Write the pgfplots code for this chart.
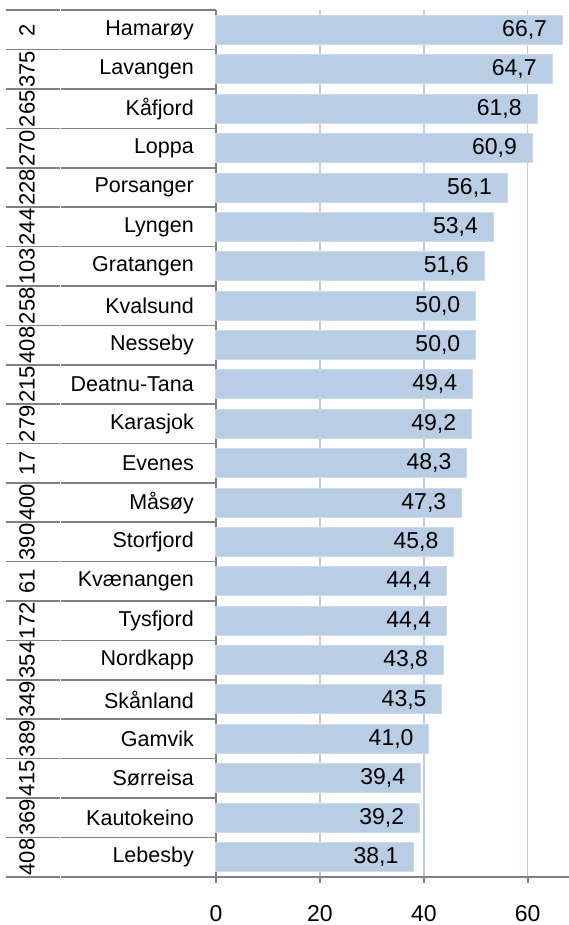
\documentclass[border=0pt]{standalone}
\usepackage{fontspec}
\setmainfont{Liberation Sans}
\setsansfont{Liberation Sans}
\usepackage{pgfplots}
\pgfplotsset{compat=1.18}

\definecolor{barblue}{RGB}{185,205,229}
\definecolor{baredge}{RGB}{205,218,236}
\definecolor{gridblue}{RGB}{185,205,229}
\definecolor{axisgray}{RGB}{128,128,128}

\newcommand\namefont{\fontsize{21.5}{24}\selectfont}
\newcommand\numfont{\fontsize{23}{26}\selectfont}
\newcommand\rankfont{\fontsize{22}{24}\selectfont}

\begin{document}
\begin{tikzpicture}
\begin{axis}[
    name=ax,
    at={(0,0)}, anchor=south west,
    scale only axis,
    width=353pt, height=866.4pt,
    xbar, bar width=29pt,
    xmin=0, xmax=67.95,
    ymin=-0.5, ymax=21.5,
    y dir=reverse,
    axis x line*=bottom, axis y line*=left,
    axis line style={draw=axisgray, line width=1.6pt, -},
    xtick={0,20,40,60},
    ytick={0,...,21},
    yticklabels={Hamarøy,Lavangen,Kåfjord,Loppa,Porsanger,Lyngen,Gratangen,
        Kvalsund,Nesseby,Deatnu-Tana,Karasjok,Evenes,Måsøy,Storfjord,
        Kvænangen,Tysfjord,Nordkapp,Skånland,Gamvik,Sørreisa,Kautokeino,Lebesby},
    tick align=outside,
    major tick length=6pt,
    xtick style={draw=axisgray, line width=1.6pt},
    ytick style={draw=none},
    xmajorgrids,
    grid style={draw=gridblue, line width=1.4pt},
    /pgf/number format/assume math mode=true,
    xticklabel style={font=\numfont, inner sep=0pt, yshift=-23pt},
    yticklabel style={font=\namefont, anchor=east, inner sep=0pt, xshift=-16pt},
    point meta=x,
    nodes near coords={\pgfmathprintnumber[fixed, fixed zerofill, precision=1, use comma]{\pgfplotspointmeta}},
    every node near coord/.append style={anchor=east, xshift=-15pt, inner sep=0pt,
        font=\numfont, text=black},
    clip=false,
]
\addplot[fill=barblue, draw=baredge, line width=1pt] coordinates {
    (66.7,0) (64.7,1) (61.8,2) (60.9,3) (56.1,4) (53.4,5) (51.6,6)
    (50.0,7) (50.0,8) (49.4,9) (49.2,10) (48.3,11) (47.3,12) (45.8,13)
    (44.4,14) (44.4,15) (43.8,16) (43.5,17) (41.0,18) (39.4,19) (39.2,20)
    (38.1,21)
};

% row separators of the category table (two levels)
\pgfplotsinvokeforeach{0,...,22}{
    \draw[axisgray, line width=1.6pt] ([xshift=-210pt]axis cs:0,#1-0.5) -- ([xshift=-156pt]axis cs:0,#1-0.5);
    \draw[axisgray, line width=1.6pt] ([xshift=-155pt]axis cs:0,#1-0.5) -- (axis cs:0,#1-0.5);
}

% rank numbers, outer category level
\foreach \r [count=\i from 0] in {2,375,265,270,228,244,103,258,408,215,279,
        17,400,390,61,172,354,349,389,415,369,408}{
    \edef\tmp{\noexpand\node[rotate=90, inner sep=0pt, font=\noexpand\rankfont]
        at ([xshift=-189pt]axis cs:0,\i) {\r};}
    \tmp
}
\end{axis}
\pgfresetboundingbox
\path[use as bounding box] ([xshift=-216pt,yshift=-48.3pt]ax.south west)
    rectangle ([yshift=10.3pt]ax.north east);
\end{tikzpicture}
\end{document}
